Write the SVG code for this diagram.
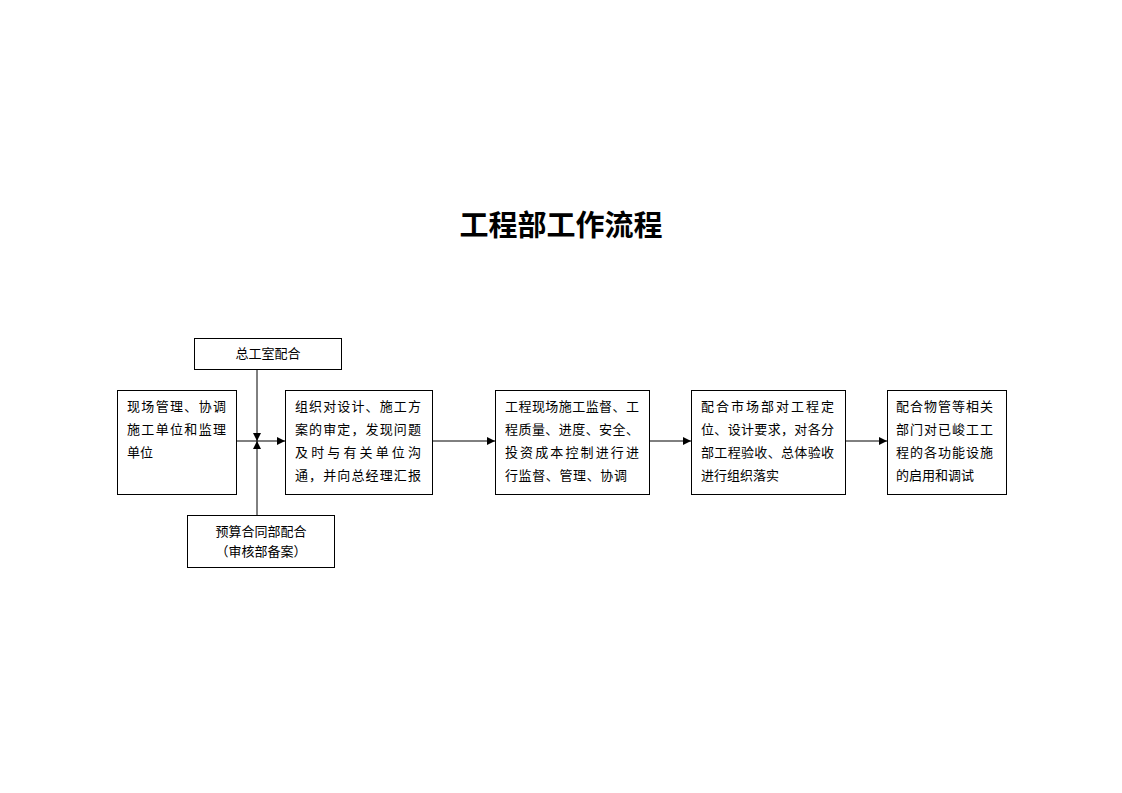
<svg xmlns="http://www.w3.org/2000/svg" width="1122" height="793" viewBox="0 0 1122 793">
<defs>
<style>
.box{fill:#fff;stroke:#000;stroke-width:1}
.t{font-family:"Noto Sans CJK SC","Noto Sans CJK JP",sans-serif;font-size:13px;fill:#000}
.c{text-anchor:middle}
.ln{stroke:#000;stroke-width:1;fill:none}
</style>
<marker id="ah" viewBox="0 0 10 10" refX="10" refY="5" markerWidth="9" markerHeight="8" markerUnits="userSpaceOnUse" orient="auto">
<path d="M0,0 L10,5 L0,10 z" fill="#000"/>
</marker>
</defs>
<rect width="1122" height="793" fill="#fff"/>
<text x="561" y="236" text-anchor="middle" style="font-family:'Noto Sans CJK SC',sans-serif;font-size:29px;font-weight:bold">工程部工作流程</text>

<g id="connectors">
<line class="ln" x1="236" y1="441" x2="285" y2="441" marker-end="url(#ah)"/>
<line class="ln" x1="257" y1="369" x2="257" y2="441" marker-end="url(#ah)"/>
<line class="ln" x1="257" y1="515" x2="257" y2="441" marker-end="url(#ah)"/>
<line class="ln" x1="432" y1="441" x2="495" y2="441" marker-end="url(#ah)"/>
<line class="ln" x1="649" y1="441" x2="691" y2="441" marker-end="url(#ah)"/>
<line class="ln" x1="845" y1="441" x2="887" y2="441" marker-end="url(#ah)"/>
</g>

<g id="n-zgs">
<rect class="box" x="194.5" y="338.5" width="147" height="31"/>
<text class="t c" x="268" y="358">总工室配合</text>
</g>

<g id="n-ysh">
<rect class="box" x="187.5" y="515.5" width="147" height="52"/>
<text class="t c" x="261" y="536">预算合同部配合</text>
<text class="t c" x="261" y="556">（审核部备案）</text>
</g>

<g id="n1">
<rect class="box" x="117.5" y="390.5" width="119" height="104"/>
<text class="t" x="127" y="411" textLength="99" lengthAdjust="spacing">现场管理、协调</text>
<text class="t" x="127" y="434" textLength="99" lengthAdjust="spacing">施工单位和监理</text>
<text class="t" x="127" y="457">单位</text>
</g>

<g id="n2">
<rect class="box" x="285.5" y="390.5" width="147" height="104"/>
<text class="t" x="295" y="411" textLength="126" lengthAdjust="spacing">组织对设计、施工方</text>
<text class="t" x="295" y="434" textLength="126" lengthAdjust="spacing">案的审定，发现问题</text>
<text class="t" x="295" y="457" textLength="126" lengthAdjust="spacing">及时与有关单位沟</text>
<text class="t" x="295" y="480" textLength="126" lengthAdjust="spacing">通，并向总经理汇报</text>
</g>

<g id="n3">
<rect class="box" x="495.5" y="390.5" width="154" height="104"/>
<text class="t" x="505" y="411" textLength="134" lengthAdjust="spacing">工程现场施工监督、工</text>
<text class="t" x="505" y="434" textLength="134" lengthAdjust="spacing">程质量、进度、安全、</text>
<text class="t" x="505" y="457" textLength="134" lengthAdjust="spacing">投资成本控制进行进</text>
<text class="t" x="505" y="480" textLength="122" lengthAdjust="spacing">行监督、管理、协调</text>
</g>

<g id="n4">
<rect class="box" x="691.5" y="390.5" width="154" height="104"/>
<text class="t" x="701" y="411" textLength="133" lengthAdjust="spacing">配合市场部对工程定</text>
<text class="t" x="701" y="434" textLength="133" lengthAdjust="spacing">位、设计要求，对各分</text>
<text class="t" x="701" y="457" textLength="133" lengthAdjust="spacing">部工程验收、总体验收</text>
<text class="t" x="701" y="480">进行组织落实</text>
</g>

<g id="n5">
<rect class="box" x="887.5" y="390.5" width="119" height="104"/>
<text class="t" x="896" y="411" textLength="97" lengthAdjust="spacing">配合物管等相关</text>
<text class="t" x="896" y="434" textLength="97" lengthAdjust="spacing">部门对已峻工工</text>
<text class="t" x="896" y="457" textLength="97" lengthAdjust="spacing">程的各功能设施</text>
<text class="t" x="896" y="480">的启用和调试</text>
</g>
</svg>
